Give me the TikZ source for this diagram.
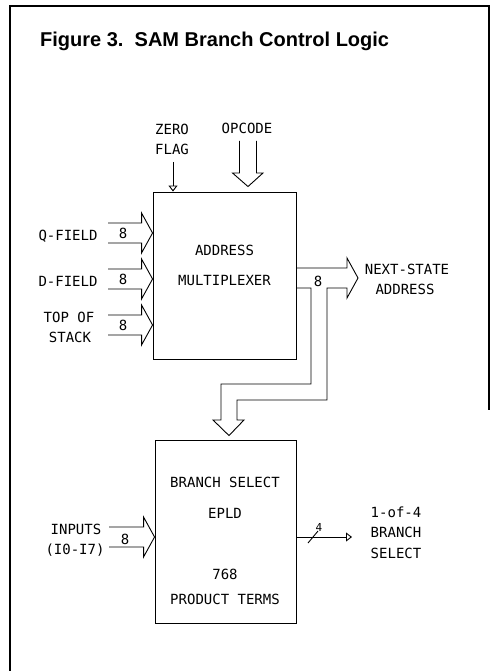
\documentclass[tikz,border=0pt]{standalone}
\usepackage{fontspec}
\setmonofont{DejaVu Sans Mono}
\newfontfamily\titlefont{Liberation Sans}
\usetikzlibrary{arrows.meta,calc}

\tikzset{
  blk/.style={draw, line width=0.9pt, inner sep=0pt},
  lbl/.style={font=\ttfamily\fontsize{14}{16}\selectfont, inner sep=0pt,
              text height=10.2pt, text depth=0pt},
  bus/.style={line width=0.9pt, line join=miter},
  sig/.style={line width=0.9pt, -{Triangle[open, length=6pt, width=9pt]}},
}

\begin{document}
\begin{tikzpicture}[x=1pt, y=-1pt]
\useasboundingbox (0,0) rectangle (491,671);

% ===== Frame and title =====
\draw[line width=2pt] (10,671) -- (10,6) -- (489,6) -- (489,410);
\node[anchor=base west, inner sep=0pt, font=\titlefont\bfseries\fontsize{20}{24}\selectfont]
  (title) at (40,47) {Figure 3.\ \ SAM Branch Control Logic};

% ===== Blocks =====
\node[blk, minimum width=143pt, minimum height=167pt] (mux) at (224.5,275.5) {};
\node[lbl] (addr) at (224.5,250) {ADDRESS};
\node[lbl] (mplx) at (224.5,280) {MULTIPLEXER};

\node[blk, minimum width=141pt, minimum height=183pt] (epld) at (225.5,531.5) {};
\node[lbl] (bsel) at (225,482) {BRANCH SELECT};
\node[lbl] (eptxt) at (225,513) {EPLD};
\node[lbl] (pt) at (225,574) {768};
\node[lbl] (pterms) at (225,599) {PRODUCT TERMS};

% ===== Zero flag and opcode =====
\node[lbl] (zero) at (172,129) {ZERO};
\node[lbl] (flag) at (172,149) {FLAG};
\coordinate (zf) at (173,162);
\draw[sig] (zf) -- (mux.north -| zf);

\node[lbl] (opc) at (247,128) {OPCODE};
\coordinate (op) at (248,141);
\draw[bus] ($(op)+(-8.5,0)$) -- ++(0,32) -- ++(-7,0) -- ($(mux.north -| op)+(0,-5)$)
  -- ($(op)+(15,32)$) -- ++(-6.5,0) -- ++(0,-32);

% ===== Bus inputs to the multiplexer =====
\foreach \y/\n in {233/qf,279/df,325/ts} {
  \coordinate (\n) at (108,\y);
  \draw[bus] (\n) ++(0,-10) -- ($(mux.west |- \n)+(-11,-10)$) -- ++(0,-10)
    -- (mux.west |- \n) -- ++(-11,20) -- ++(0,-10) -- ($(\n)+(0,10)$);
  \node[lbl] (w\n) at (123,\y) {8};
}
\node[lbl] (qlbl) at (68,235) {Q-FIELD};
\node[lbl] (dlbl) at (68,281) {D-FIELD};
\node[lbl] (tlbl) at (69,317) {TOP OF};
\node[lbl] (slbl) at (70,337) {STACK};

% ===== Next-state address, also fed down to the EPLD =====
\draw[bus] (mux.east |- 0,268) -- (347,268) -- (347,258) -- (358,278) -- (347,298)
  -- (347,288) -- (327,288) -- (327,400) -- (237,400) -- (237,420) -- (244,420)
  -- ($(epld.north)+(3.5,-4)$) -- (213,420) -- (221,420) -- (221,384) -- (311,384)
  -- (311,288) -- (mux.east |- 0,288);
\node[lbl] (wns) at (318,281) {8};
\node[lbl] (ns1) at (407,269) {NEXT-STATE};
\node[lbl] (ns2) at (405,289) {ADDRESS};

% ===== EPLD inputs and outputs =====
\coordinate (in) at (109,537);
\draw[bus] (in) ++(0,-10) -- ($(epld.west |- in)+(-11,-10)$) -- ++(0,-10)
  -- (epld.west |- in) -- ++(-11,20) -- ++(0,-10) -- ($(in)+(0,10)$);
\node[lbl] (win) at (125,539) {8};
\node[lbl] (inp1) at (76,529) {INPUTS};
\node[lbl] (inp2) at (75,549) {(I0-I7)};

\coordinate (bs) at (352,537);
\draw[sig] (epld.east |- bs) -- (bs);
\draw[line width=0.9pt] (308,543) -- (318,531);
\node[lbl, font=\ttfamily\fontsize{11}{13}\selectfont, text height=8pt] (wout) at (319,527) {4};
\node[lbl] (out1) at (396,512) {1-of-4};
\node[lbl] (out2) at (396,532) {BRANCH};
\node[lbl] (out3) at (396,553) {SELECT};

\end{tikzpicture}
\end{document}
